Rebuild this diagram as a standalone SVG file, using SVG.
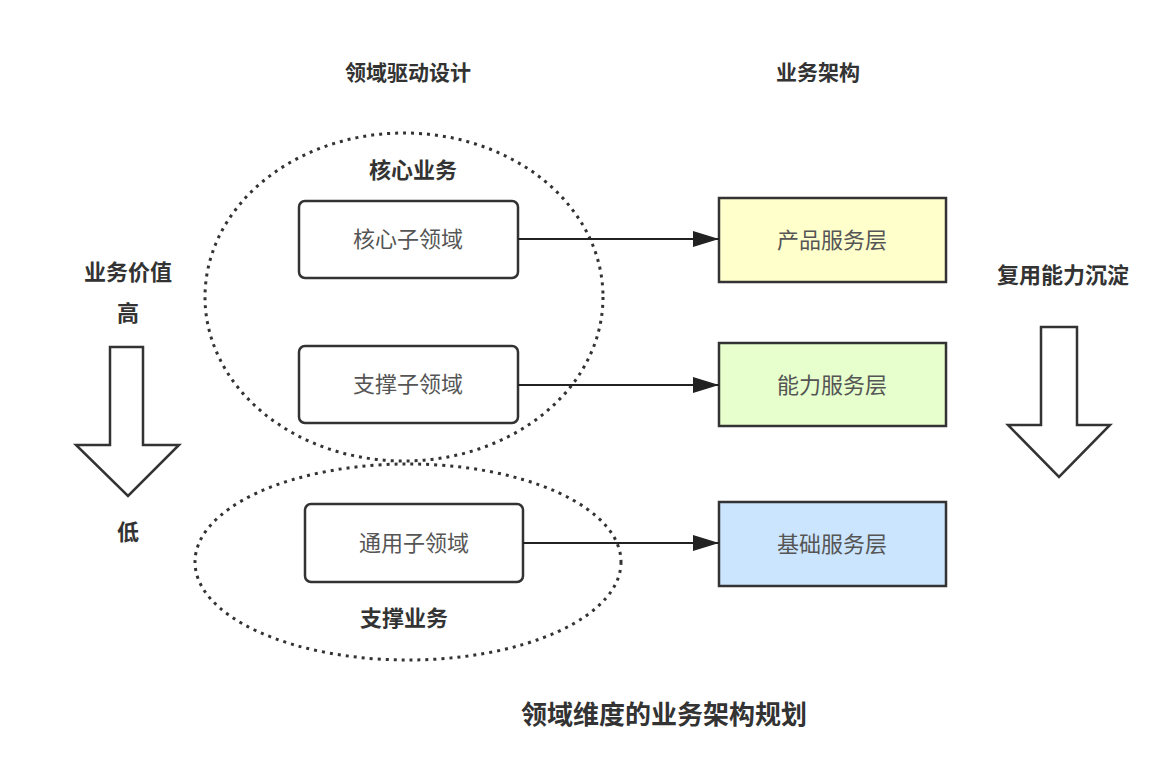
<svg xmlns="http://www.w3.org/2000/svg" width="1163" height="771" viewBox="0 0 1163 771">
<style>
.t{font-family:"Noto Sans CJK SC","Noto Sans",sans-serif;font-size:22px;font-weight:bold;fill:#333;text-anchor:middle}
.h{font-size:21px}
.b{font-size:26px}
.n{font-family:"Noto Sans CJK SC","Noto Sans",sans-serif;font-size:22px;fill:#555;text-anchor:middle}
.box{fill:#fff;stroke:#333;stroke-width:2.5}
.lay{stroke:#333;stroke-width:2.5}
.dot{fill:none;stroke:#333;stroke-width:3;stroke-dasharray:3 5}
.big{fill:#fff;stroke:#333;stroke-width:2.5}
.c{fill:none;stroke:#222;stroke-width:2}
</style>
<defs>
<marker id="ah2" markerWidth="26" markerHeight="18" refX="26" refY="9" orient="auto" markerUnits="userSpaceOnUse" viewBox="0 0 26 18">
<path d="M0,1 L26,9 L0,17 Z" fill="#222"/>
</marker>
</defs>
<rect width="1163" height="771" fill="#fff"/>
<g id="headers">
<text class="t h" x="408" y="80">领域驱动设计</text>
<text class="t h" x="818" y="80">业务架构</text>
<text class="t b" x="664" y="724">领域维度的业务架构规划</text>
</g>
<g id="core-group">
<ellipse class="dot" cx="404" cy="297" rx="199" ry="164"/>
<text class="t" x="413" y="178">核心业务</text>
</g>
<g id="support-group">
<ellipse class="dot" cx="408" cy="562" rx="213" ry="98"/>
<text class="t" x="404" y="626">支撑业务</text>
</g>
<g id="core-domain">
<rect class="box" x="299" y="201" width="219" height="77" rx="6"/>
<text class="n" x="408" y="247">核心子领域</text>
</g>
<g id="support-domain">
<rect class="box" x="299" y="346" width="219" height="77" rx="6"/>
<text class="n" x="408" y="392">支撑子领域</text>
</g>
<g id="generic-domain">
<rect class="box" x="305" y="504" width="218" height="78" rx="6"/>
<text class="n" x="414" y="551">通用子领域</text>
</g>
<g id="product-layer">
<rect class="lay" x="719" y="198" width="227" height="84" fill="#ffffcc"/>
<text class="n" x="832" y="248">产品服务层</text>
</g>
<g id="ability-layer">
<rect class="lay" x="719" y="343" width="227" height="83" fill="#e6ffcc"/>
<text class="n" x="832" y="393">能力服务层</text>
</g>
<g id="base-layer">
<rect class="lay" x="719" y="502" width="227" height="84" fill="#cce5ff"/>
<text class="n" x="832" y="552">基础服务层</text>
</g>
<g id="value-axis">
<text class="t" x="128" y="280">业务价值</text>
<text class="t" x="128" y="321">高</text>
<path class="big" d="M110,347 L143,347 L143,445 L179,445 L128,496 L76,445 L110,445 Z"/>
<text class="t" x="128" y="540">低</text>
</g>
<g id="reuse-axis">
<text class="t" x="1063" y="283">复用能力沉淀</text>
<path class="big" d="M1041,327 L1077,327 L1077,425 L1110,425 L1059,477 L1008,425 L1041,425 Z"/>
</g>
<g id="connectors">
<line class="c" x1="518" y1="239" x2="719" y2="239" marker-end="url(#ah2)"/>
<line class="c" x1="518" y1="385" x2="719" y2="385" marker-end="url(#ah2)"/>
<line class="c" x1="523" y1="543" x2="719" y2="543" marker-end="url(#ah2)"/>
</g>
</svg>
